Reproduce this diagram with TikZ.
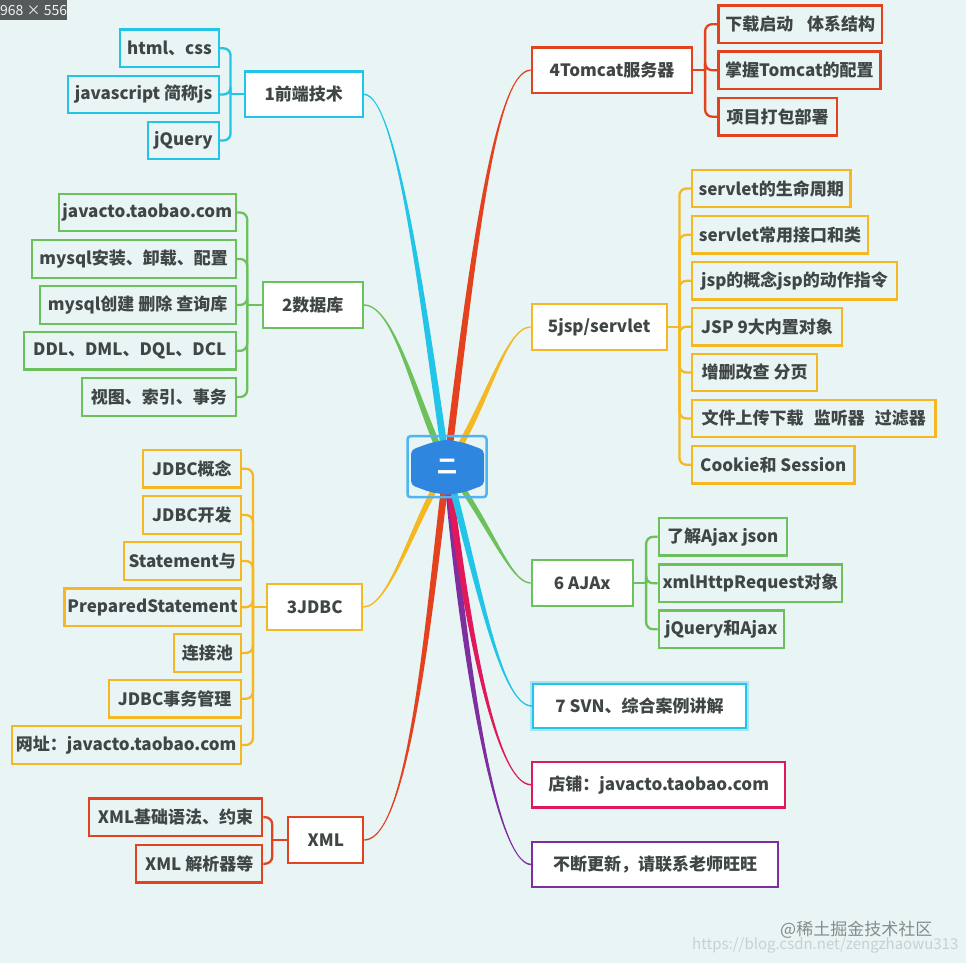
\documentclass[tikz,border=0pt]{standalone}
\usepackage{fontspec}
\setmainfont{Noto Sans CJK SC}
\usetikzlibrary{calc}
\definecolor{bg}{HTML}{E9F5F5}
\definecolor{cyanc}{HTML}{22C4E8}
\definecolor{cyanglow}{HTML}{A6E6F4}
\definecolor{greenc}{HTML}{6CC15C}
\definecolor{orangec}{HTML}{F5B822}
\definecolor{redc}{HTML}{E4421F}
\definecolor{crimsonc}{HTML}{E0195D}
\definecolor{purplec}{HTML}{7E2F9F}
\definecolor{txt}{HTML}{404545}
\definecolor{hexblue}{HTML}{2E86DE}
\definecolor{rimblue}{HTML}{4DB5F0}
\definecolor{labelgray}{HTML}{555A5A}
\definecolor{wmgray}{HTML}{858B8B}
\definecolor{wmlight}{HTML}{C6D1D1}
% tapered branch: colour, start, control1, control2, end, side sign
\newcommand\twig[6]{%
  \fill[#1] ($#2+(-3.5,0)$) .. controls ($#3+(-3.5,0)$) and ($#4+(0,{#6*0.75})$) .. ($#5+(0,{#6*0.75})$)
    -- ($#5+(0,{#6*(-0.75)})$) .. controls ($#4+(0,{#6*(-0.75)})$) and ($#3+(3.5,0)$) .. ($#2+(3.5,0)$) -- cycle;}
\begin{document}
\begin{tikzpicture}[x=1pt,y=-1pt,
  every node/.style={font=\bfseries\fontsize{17}{20}\selectfont, text=txt, inner xsep=3pt, inner ysep=0pt},
  leafbox/.style={draw=#1, line width=2.2pt, fill=bg, minimum height=37.5pt},
  hubbox/.style={draw=#1, line width=2.2pt, fill=white, minimum height=45.5pt},
  linkline/.style={draw=#1, line width=2.3pt, rounded corners=7pt}]
\useasboundingbox (0,0) rectangle (966,963);
\fill[bg] (0,0) rectangle (966,963);

% ---------- topic nodes ----------
\node[hubbox=cyanc, minimum width=117.7pt] (t1) at (303.8,94.3) {1前端技术};
\node[hubbox=greenc, minimum width=100pt] (t2) at (312.7,305) {2数据库};
\node[hubbox=orangec, minimum width=95.3pt] (t3) at (314.7,607) {3JDBC};
\node[hubbox=redc, minimum width=75pt] (t4) at (325.8,840) {XML};
\node[hubbox=redc, minimum width=160.6pt] (t5) at (612,70.2) {4Tomcat服务器};
\node[hubbox=orangec, minimum width=135pt] (t6) at (599.2,327) {5jsp/servlet};
\node[hubbox=greenc, minimum width=101pt] (t7) at (582.2,583) {6 AJAx};
\node[hubbox=cyanc, minimum width=213pt, minimum height=44pt, preaction={draw=cyanglow, line width=6pt}] (t8) at (639.5,706) {7 SVN、综合案例讲解};
\node[hubbox=crimsonc, minimum width=252.7pt] (t9) at (658.7,784.8) {店铺：javacto.taobao.com};
\node[hubbox=purplec, minimum width=245.4pt] (t10) at (655,864.5) {不断更新，请联系老师旺旺};

% ---------- leaf nodes ----------
\node[leafbox=cyanc, anchor=east, minimum width=99pt] (a1) at (220,48.3) {html、css};
\node[leafbox=cyanc, anchor=east, minimum width=150.7pt] (a2) at (220,94.5) {javascript 简称js};
\node[leafbox=cyanc, anchor=east, minimum width=71pt] (a3) at (220,140.5) {jQuery};

\node[leafbox=greenc, anchor=east, minimum width=176.7pt] (b1) at (236.7,212.5) {javacto.taobao.com};
\node[leafbox=greenc, anchor=east, minimum width=204pt] (b2) at (236.7,259) {mysql安装、卸载、配置};
\node[leafbox=greenc, anchor=east, minimum width=196pt] (b3) at (236.7,305) {mysql创建 删除 查询库};
\node[leafbox=greenc, anchor=east, minimum width=211.7pt] (b4) at (236.7,350.8) {DDL、DML、DQL、DCL};
\node[leafbox=greenc, anchor=east, minimum width=153.4pt] (b5) at (236.7,397) {视图、索引、事务};

\node[leafbox=orangec, anchor=east, minimum width=97.4pt] (c1) at (241.7,468.7) {JDBC概念};
\node[leafbox=orangec, anchor=east, minimum width=97.4pt] (c2) at (241.7,515) {JDBC开发};
\node[leafbox=orangec, anchor=east, minimum width=116.7pt] (c3) at (241.7,561) {Statement与};
\node[leafbox=orangec, anchor=east, minimum width=174.4pt] (c4) at (241.7,607.2) {PreparedStatement};
\node[leafbox=orangec, anchor=east, minimum width=66.7pt] (c5) at (241.7,653) {连接池};
\node[leafbox=orangec, anchor=east, minimum width=132pt] (c6) at (241.7,698.8) {JDBC事务管理};
\node[leafbox=orangec, anchor=east, minimum width=229pt] (c7) at (241.7,745) {网址：javacto.taobao.com};

\node[leafbox=redc, anchor=east, minimum width=173.3pt] (d1) at (263.3,817.2) {XML基础语法、约束};
\node[leafbox=redc, anchor=east, minimum width=126pt] (d2) at (263.3,863.7) {XML 解析器等};

\node[leafbox=redc, anchor=west, minimum width=163.7pt] (e1) at (717.3,24.2) {下载启动\hspace{0.8em}体系结构};
\node[leafbox=redc, anchor=west, minimum width=162pt] (e2) at (717.3,70.2) {掌握Tomcat的配置};
\node[leafbox=redc, anchor=west, minimum width=118.4pt] (e3) at (717.3,116.7) {项目打包部署};

\node[leafbox=orangec, anchor=west, minimum width=158.3pt] (f1) at (691,188.5) {servlet的生命周期};
\node[leafbox=orangec, anchor=west, minimum width=176pt] (f2) at (691,234.8) {servlet常用接口和类};
\node[leafbox=orangec, anchor=west, minimum width=204.7pt] (f3) at (691,280.8) {jsp的概念jsp的动作指令};
\node[leafbox=orangec, anchor=west, minimum width=150pt] (f4) at (691,326.7) {JSP 9大内置对象};
\node[leafbox=orangec, anchor=west, minimum width=125pt] (f5) at (691,372.5) {增删改查 分页};
\node[leafbox=orangec, anchor=west, minimum width=243.3pt] (f6) at (691,418.5) {文件上传下载\hspace{0.6em}监听器\hspace{0.6em}过滤器};
\node[leafbox=orangec, anchor=west, minimum width=162.3pt] (f7) at (691,464.8) {Cookie和 Session};

\node[leafbox=greenc, anchor=west, minimum width=128pt] (g1) at (657.7,536.8) {了解Ajax json};
\node[leafbox=greenc, anchor=west, minimum width=183.3pt] (g2) at (657.7,583.3) {xmlHttpRequest对象};
\node[leafbox=greenc, anchor=west, minimum width=125pt] (g3) at (657.7,629.2) {jQuery和Ajax};

% ---------- brackets ----------
\draw[linkline=cyanc] (t1.west) -- ++(-13.3,0) coordinate (j1);
\foreach \c in {a1,a2,a3} \draw[linkline=cyanc] (j1) |- (\c.east);
\draw[linkline=greenc] (t2.west) -- ++(-14.4,0) coordinate (j2);
\foreach \c in {b1,b2,b3,b4,b5} \draw[linkline=greenc] (j2) |- (\c.east);
\draw[linkline=orangec] (t3.west) -- ++(-13,0) coordinate (j3);
\foreach \c in {c1,c2,c3,c4,c5,c6,c7} \draw[linkline=orangec] (j3) |- (\c.east);
\draw[linkline=redc] (t4.west) -- ++(-15,0) coordinate (j4);
\foreach \c in {d1,d2} \draw[linkline=redc] (j4) |- (\c.east);
\draw[linkline=redc] (t5.east) -- ++(11.7,0) coordinate (j5);
\foreach \c in {e1,e2,e3} \draw[linkline=redc] (j5) |- (\c.west);
\draw[linkline=orangec] (t6.east) -- ++(11.6,0) coordinate (j6);
\foreach \c in {f1,f2,f3,f4,f5,f6,f7} \draw[linkline=orangec] (j6) |- (\c.west);
\draw[linkline=greenc] (t7.east) -- ++(12.3,0) coordinate (j7);
\foreach \c in {g1,g2,g3} \draw[linkline=greenc] (j7) |- (\c.west);

% ---------- main branches ----------
\coordinate (root) at (447,467);
\twig{greenc}{(root)}{(415,400)}{(395,305)}{(t2.east)}{1}
\twig{cyanc}{(root)}{(425,320)}{(398,94.3)}{(t1.east)}{1}
\twig{orangec}{(root)}{(415,517)}{(390,607)}{(t3.east)}{-1}
\twig{redc}{(root)}{(430,600)}{(410,840)}{(t4.east)}{-1}
\twig{redc}{(root)}{(472,260)}{(495,70.2)}{(t5.west)}{-1}
\twig{orangec}{(root)}{(487,407)}{(505,327)}{(t6.west)}{-1}
\twig{purplec}{(root)}{(462,650)}{(495,864.5)}{(t10.west)}{1}
\twig{crimsonc}{(root)}{(466,620)}{(495,784.8)}{(t9.west)}{1}
\twig{cyanc}{(root)}{(478,580)}{(500,706)}{(t8.west)}{1}
\twig{greenc}{(root)}{(490,523)}{(510,583)}{(t7.west)}{1}

% ---------- central topic ----------
\fill[hexblue, rounded corners=4pt] (411,450) -- (430,443) -- (447.5,439.5) -- (465,443) -- (484,450) -- (484,485) -- (465,492) -- (447.5,495) -- (430,492) -- (411,485) -- cycle;
\node[draw=rimblue, line width=2.5pt, rounded corners=3pt, minimum width=79pt, minimum height=61pt, text=white, font=\bfseries\fontsize{20}{22}\selectfont] (hub) at (447,466.7) {二};

% ---------- screenshot extras ----------
\node[fill=labelgray, text=white!90!gray, font=\fontsize{14}{16}\selectfont, anchor=north west, inner sep=0pt, minimum height=20pt, minimum width=60pt] (dim) at (0,0) {968 × 556};
\node[anchor=west, inner sep=0pt, text=wmgray, font=\fontsize{17}{20}\selectfont] (wm1) at (780,929.5) {@稀土掘金技术社区};
\node[anchor=west, inner sep=0pt, text=wmlight, font=\fontsize{15}{17}\selectfont] (wm2) at (692,945) {https://blog.csdn.net/zengzhaowu313};
\end{tikzpicture}
\end{document}
